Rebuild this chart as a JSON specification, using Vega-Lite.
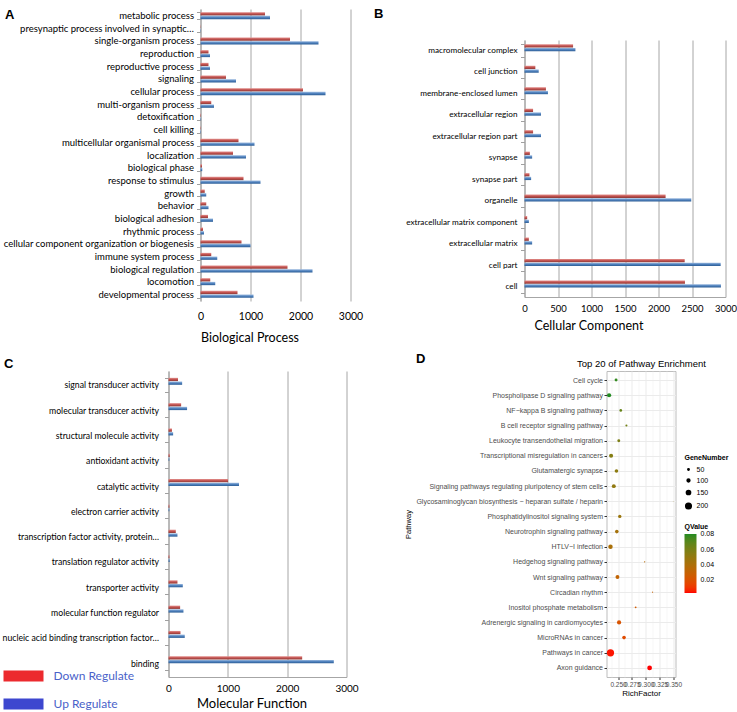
{
  "$schema": "https://vega.github.io/schema/vega-lite/v6.json",
  "padding": {"left": 1.5, "top": 4, "right": 0, "bottom": 0},
  "background": "white",
  "config": {"font": "Lato", "view": {"stroke": null}},
  "datasets": {
    "bp": [
      {"cat": "metabolic process", "reg": "Down Regulate", "n": 1290}, {"cat": "metabolic process", "reg": "Up Regulate", "n": 1390},
      {"cat": "presynaptic process involved in synaptic…", "reg": "Down Regulate", "n": 5}, {"cat": "presynaptic process involved in synaptic…", "reg": "Up Regulate", "n": 8},
      {"cat": "single-organism process", "reg": "Down Regulate", "n": 1790}, {"cat": "single-organism process", "reg": "Up Regulate", "n": 2360},
      {"cat": "reproduction", "reg": "Down Regulate", "n": 160}, {"cat": "reproduction", "reg": "Up Regulate", "n": 190},
      {"cat": "reproductive process", "reg": "Down Regulate", "n": 160}, {"cat": "reproductive process", "reg": "Up Regulate", "n": 190},
      {"cat": "signaling", "reg": "Down Regulate", "n": 510}, {"cat": "signaling", "reg": "Up Regulate", "n": 710},
      {"cat": "cellular process", "reg": "Down Regulate", "n": 2050}, {"cat": "cellular process", "reg": "Up Regulate", "n": 2500},
      {"cat": "multi-organism process", "reg": "Down Regulate", "n": 215}, {"cat": "multi-organism process", "reg": "Up Regulate", "n": 270},
      {"cat": "detoxification", "reg": "Down Regulate", "n": 10}, {"cat": "detoxification", "reg": "Up Regulate", "n": 12},
      {"cat": "cell killing", "reg": "Down Regulate", "n": 8}, {"cat": "cell killing", "reg": "Up Regulate", "n": 10},
      {"cat": "multicellular organismal process", "reg": "Down Regulate", "n": 760}, {"cat": "multicellular organismal process", "reg": "Up Regulate", "n": 1080},
      {"cat": "localization", "reg": "Down Regulate", "n": 650}, {"cat": "localization", "reg": "Up Regulate", "n": 910},
      {"cat": "biological phase", "reg": "Down Regulate", "n": 30}, {"cat": "biological phase", "reg": "Up Regulate", "n": 35},
      {"cat": "response to stimulus", "reg": "Down Regulate", "n": 860}, {"cat": "response to stimulus", "reg": "Up Regulate", "n": 1200},
      {"cat": "growth", "reg": "Down Regulate", "n": 85}, {"cat": "growth", "reg": "Up Regulate", "n": 115},
      {"cat": "behavior", "reg": "Down Regulate", "n": 115}, {"cat": "behavior", "reg": "Up Regulate", "n": 160},
      {"cat": "biological adhesion", "reg": "Down Regulate", "n": 150}, {"cat": "biological adhesion", "reg": "Up Regulate", "n": 250},
      {"cat": "rhythmic process", "reg": "Down Regulate", "n": 50}, {"cat": "rhythmic process", "reg": "Up Regulate", "n": 70},
      {"cat": "cellular component organization or biogenesis", "reg": "Down Regulate", "n": 820}, {"cat": "cellular component organization or biogenesis", "reg": "Up Regulate", "n": 1000},
      {"cat": "immune system process", "reg": "Down Regulate", "n": 215}, {"cat": "immune system process", "reg": "Up Regulate", "n": 335},
      {"cat": "biological regulation", "reg": "Down Regulate", "n": 1740}, {"cat": "biological regulation", "reg": "Up Regulate", "n": 2240},
      {"cat": "locomotion", "reg": "Down Regulate", "n": 195}, {"cat": "locomotion", "reg": "Up Regulate", "n": 295},
      {"cat": "developmental process", "reg": "Down Regulate", "n": 740}, {"cat": "developmental process", "reg": "Up Regulate", "n": 1060}
    ],
    "cc": [
      {"cat": "macromolecular complex", "reg": "Down Regulate", "n": 725}, {"cat": "macromolecular complex", "reg": "Up Regulate", "n": 760},
      {"cat": "cell junction", "reg": "Down Regulate", "n": 162}, {"cat": "cell junction", "reg": "Up Regulate", "n": 212},
      {"cat": "membrane-enclosed lumen", "reg": "Down Regulate", "n": 320}, {"cat": "membrane-enclosed lumen", "reg": "Up Regulate", "n": 350},
      {"cat": "extracellular region", "reg": "Down Regulate", "n": 128}, {"cat": "extracellular region", "reg": "Up Regulate", "n": 246},
      {"cat": "extracellular region part", "reg": "Down Regulate", "n": 128}, {"cat": "extracellular region part", "reg": "Up Regulate", "n": 246},
      {"cat": "synapse", "reg": "Down Regulate", "n": 80}, {"cat": "synapse", "reg": "Up Regulate", "n": 114},
      {"cat": "synapse part", "reg": "Down Regulate", "n": 74}, {"cat": "synapse part", "reg": "Up Regulate", "n": 99},
      {"cat": "organelle", "reg": "Down Regulate", "n": 2106}, {"cat": "organelle", "reg": "Up Regulate", "n": 2489},
      {"cat": "extracellular matrix component", "reg": "Down Regulate", "n": 40}, {"cat": "extracellular matrix component", "reg": "Up Regulate", "n": 65},
      {"cat": "extracellular matrix", "reg": "Down Regulate", "n": 65}, {"cat": "extracellular matrix", "reg": "Up Regulate", "n": 114},
      {"cat": "cell part", "reg": "Down Regulate", "n": 2391}, {"cat": "cell part", "reg": "Up Regulate", "n": 2928},
      {"cat": "cell", "reg": "Down Regulate", "n": 2395}, {"cat": "cell", "reg": "Up Regulate", "n": 2932}
    ],
    "mf": [
      {"cat": "signal transducer activity", "reg": "Down Regulate", "n": 160}, {"cat": "signal transducer activity", "reg": "Up Regulate", "n": 230},
      {"cat": "molecular transducer activity", "reg": "Down Regulate", "n": 213}, {"cat": "molecular transducer activity", "reg": "Up Regulate", "n": 313},
      {"cat": "structural molecule activity", "reg": "Down Regulate", "n": 58}, {"cat": "structural molecule activity", "reg": "Up Regulate", "n": 78},
      {"cat": "antioxidant activity", "reg": "Down Regulate", "n": 20}, {"cat": "antioxidant activity", "reg": "Up Regulate", "n": 15},
      {"cat": "catalytic activity", "reg": "Down Regulate", "n": 1003}, {"cat": "catalytic activity", "reg": "Up Regulate", "n": 1188},
      {"cat": "electron carrier activity", "reg": "Down Regulate", "n": 15}, {"cat": "electron carrier activity", "reg": "Up Regulate", "n": 15},
      {"cat": "transcription factor activity, protein…", "reg": "Down Regulate", "n": 123}, {"cat": "transcription factor activity, protein…", "reg": "Up Regulate", "n": 151},
      {"cat": "translation regulator activity", "reg": "Down Regulate", "n": 15}, {"cat": "translation regulator activity", "reg": "Up Regulate", "n": 20},
      {"cat": "transporter activity", "reg": "Down Regulate", "n": 151}, {"cat": "transporter activity", "reg": "Up Regulate", "n": 241},
      {"cat": "molecular function regulator", "reg": "Down Regulate", "n": 196}, {"cat": "molecular function regulator", "reg": "Up Regulate", "n": 252},
      {"cat": "nucleic acid binding transcription factor…", "reg": "Down Regulate", "n": 202}, {"cat": "nucleic acid binding transcription factor…", "reg": "Up Regulate", "n": 274},
      {"cat": "binding", "reg": "Down Regulate", "n": 2253}, {"cat": "binding", "reg": "Up Regulate", "n": 2786}
    ],
    "kegg": [
      {"Pathway": "Cell cycle", "RichFactor": 0.2464, "GeneNumber": 105, "QValue": 0.078},
      {"Pathway": "Phospholipase D signaling pathway", "RichFactor": 0.2338, "GeneNumber": 150, "QValue": 0.0805},
      {"Pathway": "NF−kappa B signaling pathway", "RichFactor": 0.2549, "GeneNumber": 95, "QValue": 0.066},
      {"Pathway": "B cell receptor signaling pathway", "RichFactor": 0.2651, "GeneNumber": 75, "QValue": 0.062},
      {"Pathway": "Leukocyte transendothelial migration", "RichFactor": 0.2513, "GeneNumber": 105, "QValue": 0.059},
      {"Pathway": "Transcriptional misregulation in cancers", "RichFactor": 0.2374, "GeneNumber": 145, "QValue": 0.056},
      {"Pathway": "Glutamatergic synapse", "RichFactor": 0.2471, "GeneNumber": 130, "QValue": 0.053},
      {"Pathway": "Signaling pathways regulating pluripotency of stem cells", "RichFactor": 0.2423, "GeneNumber": 140, "QValue": 0.051},
      {"Pathway": "Glycosaminoglycan biosynthesis − heparan sulfate / heparin", "RichFactor": 0.3496, "GeneNumber": 20, "QValue": 0.049},
      {"Pathway": "Phosphatidylinositol signaling system", "RichFactor": 0.2531, "GeneNumber": 120, "QValue": 0.047},
      {"Pathway": "Neurotrophin signaling pathway", "RichFactor": 0.2477, "GeneNumber": 130, "QValue": 0.043},
      {"Pathway": "HTLV−I infection", "RichFactor": 0.2363, "GeneNumber": 160, "QValue": 0.041},
      {"Pathway": "Hedgehog signaling pathway", "RichFactor": 0.298, "GeneNumber": 50, "QValue": 0.036},
      {"Pathway": "Wnt signaling pathway", "RichFactor": 0.2489, "GeneNumber": 140, "QValue": 0.031},
      {"Pathway": "Circadian rhythm", "RichFactor": 0.3124, "GeneNumber": 40, "QValue": 0.029},
      {"Pathway": "Inositol phosphate metabolism", "RichFactor": 0.2818, "GeneNumber": 65, "QValue": 0.025},
      {"Pathway": "Adrenergic signaling in cardiomyocytes", "RichFactor": 0.2518, "GeneNumber": 150, "QValue": 0.021},
      {"Pathway": "MicroRNAs in cancer", "RichFactor": 0.2608, "GeneNumber": 130, "QValue": 0.017},
      {"Pathway": "Pathways in cancer", "RichFactor": 0.2363, "GeneNumber": 260, "QValue": 0.004},
      {"Pathway": "Axon guidance", "RichFactor": 0.307, "GeneNumber": 170, "QValue": 0.0027}
    ]
  },
  "vconcat": [
    {
      "spacing": 10,
      "hconcat": [
        {
          "width": 182,
          "height": 292,
          "data": {"name": "bp"},
          "mark": {"type": "bar"},
          "encoding": {
            "y": {"field": "cat", "type": "nominal", "sort": null, "scale": {"paddingInner": 0.45, "paddingOuter": 0.25},
              "axis": {"title": "A", "titleAngle": 0, "titleX": -196, "titleY": 5.8, "titleAlign": "left", "titleBaseline": "middle", "titleFont": "Liberation Sans", "titleFontSize": 13, "titleFontWeight": "bold", "titleColor": "black",
                "offset": -32, "tickBand": "extent", "labelFont": "Lato", "labelFontSize": 9.5, "labelColor": "black", "labelLimit": 400, "labelPadding": 3, "tickSize": 4, "tickColor": "#A0A0A0", "domainColor": "#A0A0A0", "grid": false}},
            "yOffset": {"field": "reg", "type": "nominal", "sort": ["Down Regulate", "Up Regulate"], "scale": {"paddingInner": 0.1}},
            "x": {"field": "n", "type": "quantitative", "scale": {"domain": [-640, 3000], "nice": false},
              "axis": {"values": [0, 1000, 2000, 3000], "format": "d", "labelFlush": false, "labelOverlap": false, "title": "Biological Process", "titleX": 81, "titleFont": "Lato", "titleFontSize": 12.5, "titleFontWeight": "normal", "titleColor": "black", "titlePadding": 10, "labelFont": "Lato", "labelFontSize": 10.5, "labelColor": "black", "labelPadding": 10, "ticks": false, "tickSize": 0, "domain": false, "grid": true, "gridColor": "#A6A6A6"}},
            "color": {"condition": {"test": "datum.reg === 'Down Regulate'", "value": {"gradient": "linear", "x1": 0, "y1": 0, "x2": 0, "y2": 1, "stops": [{"offset": 0, "color": "#E3908D"}, {"offset": 0.5, "color": "#C0504D"}, {"offset": 1, "color": "#8B3A38"}]}},
              "value": {"gradient": "linear", "x1": 0, "y1": 0, "x2": 0, "y2": 1, "stops": [{"offset": 0, "color": "#9DBBE0"}, {"offset": 0.5, "color": "#4F81BD"}, {"offset": 1, "color": "#2C5D95"}]}}
          }
        },
        {
          "spacing": 14,
          "vconcat": [
            {
              "width": 1,
              "height": 10,
              "data": {"values": [{"L": "B"}]},
              "mark": {"type": "text", "font": "Liberation Sans", "fontSize": 13, "fontWeight": "bold", "align": "left", "baseline": "middle", "dx": -151, "color": "black"},
              "encoding": {"text": {"field": "L"}}
            },
            {
              "width": 201,
              "height": 257,
              "data": {"name": "cc"},
              "mark": {"type": "bar"},
              "encoding": {
                "y": {"field": "cat", "type": "nominal", "sort": null, "scale": {"paddingInner": 0.43, "paddingOuter": 0.2},
                  "axis": {"title": null, "tickBand": "extent", "labelFont": "Lato", "labelFontSize": 8.2, "labelColor": "black", "labelLimit": 400, "labelPadding": 3.5, "tickSize": 4, "tickColor": "#A0A0A0", "domainColor": "#A0A0A0", "grid": false}},
                "yOffset": {"field": "reg", "type": "nominal", "sort": ["Down Regulate", "Up Regulate"], "scale": {"paddingInner": 0.1}},
                "x": {"field": "n", "type": "quantitative", "scale": {"domain": [0, 3000], "nice": false},
                  "axis": {"values": [0, 500, 1000, 1500, 2000, 2500, 3000], "format": "d", "labelFlush": false, "labelOverlap": false, "title": "Cellular Component", "titleX": 64, "titleFont": "Lato", "titleFontSize": 12.5, "titleFontWeight": "normal", "titleColor": "black", "titlePadding": 7, "labelFont": "Lato", "labelFontSize": 9.5, "labelColor": "black", "labelPadding": 6, "ticks": false, "tickSize": 0, "domain": true, "domainColor": "#A6A6A6", "grid": true, "gridColor": "#A6A6A6"}},
                "color": {"condition": {"test": "datum.reg === 'Down Regulate'", "value": {"gradient": "linear", "x1": 0, "y1": 0, "x2": 0, "y2": 1, "stops": [{"offset": 0, "color": "#E3908D"}, {"offset": 0.5, "color": "#C0504D"}, {"offset": 1, "color": "#8B3A38"}]}},
                  "value": {"gradient": "linear", "x1": 0, "y1": 0, "x2": 0, "y2": 1, "stops": [{"offset": 0, "color": "#9DBBE0"}, {"offset": 0.5, "color": "#4F81BD"}, {"offset": 1, "color": "#2C5D95"}]}}
              }
            }
          ]
        }
      ]
    },
    {
      "spacing": 45,
      "hconcat": [
        {
          "width": 178,
          "height": 306,
          "data": {"name": "mf"},
          "layer": [
            {
              "mark": {"type": "bar"},
              "encoding": {
                "y": {"field": "cat", "type": "nominal", "sort": null, "scale": {"paddingInner": 0.45, "paddingOuter": 0.27},
                  "axis": {"title": "C", "titleAngle": 0, "titleX": -165, "titleY": -7.5, "titleAlign": "left", "titleBaseline": "middle", "titleFont": "Liberation Sans", "titleFontSize": 13, "titleFontWeight": "bold", "titleColor": "black",
                    "tickBand": "extent", "labelFont": "Lato", "labelFontSize": 8.7, "labelColor": "black", "labelLimit": 400, "labelPadding": 6, "tickSize": 4, "tickColor": "#A0A0A0", "domainColor": "#A0A0A0", "grid": false}},
                "yOffset": {"field": "reg", "type": "nominal", "sort": ["Down Regulate", "Up Regulate"], "scale": {"paddingInner": 0.1}},
                "x": {"field": "n", "type": "quantitative", "scale": {"domain": [0, 3000], "nice": false},
                  "axis": {"values": [0, 500, 1000, 1500, 2000, 2500, 3000], "format": "d", "labelFlush": false, "labelOverlap": false, "title": "Molecular Function", "titleX": 83, "titleFont": "Lato", "titleFontSize": 13, "titleFontWeight": "normal", "titleColor": "black", "titlePadding": 4, "labelFont": "Lato", "labelFontSize": 10, "labelColor": "black", "labelPadding": 6, "ticks": false, "tickSize": 0, "domain": true, "domainColor": "#A6A6A6", "grid": true, "gridColor": "#A6A6A6"}},
                "color": {"condition": {"test": "datum.reg === 'Down Regulate'", "value": {"gradient": "linear", "x1": 0, "y1": 0, "x2": 0, "y2": 1, "stops": [{"offset": 0, "color": "#E3908D"}, {"offset": 0.5, "color": "#C0504D"}, {"offset": 1, "color": "#8B3A38"}]}},
                  "value": {"gradient": "linear", "x1": 0, "y1": 0, "x2": 0, "y2": 1, "stops": [{"offset": 0, "color": "#9DBBE0"}, {"offset": 0.5, "color": "#4F81BD"}, {"offset": 1, "color": "#2C5D95"}]}}
              }
            },
            {
              "mark": {"type": "bar"},
              "encoding": {
                "y": {"field": "cat", "type": "nominal", "sort": null},
                "yOffset": {"field": "reg", "type": "nominal", "sort": ["Down Regulate", "Up Regulate"]},
                "x": {"datum": 0},
                "fill": {"field": "reg", "type": "nominal", "sort": ["Down Regulate", "Up Regulate"],
                  "scale": {"domain": ["Down Regulate", "Up Regulate"], "range": ["#EC2A2E", "#3D47CF"]},
                  "legend": {"orient": "none", "legendX": -165, "legendY": 647, "title": null, "direction": "vertical", "symbolType": "M-1,-0.275H1V0.275H-1Z", "symbolSize": 1600, "symbolStrokeWidth": 0, "symbolOpacity": 1, "labelFont": "Lato", "labelFontSize": 12, "labelColor": "#4A62C9", "labelOffset": 10, "rowPadding": 2, "padding": 0}}
              }
            }
          ]
        },
        {
          "width": 69,
          "height": 306,
          "data": {"name": "kegg"},
          "view": {"stroke": "#BDBDBD", "strokeWidth": 1},
          "layer": [
            {
              "mark": {"type": "circle", "opacity": 1},
              "encoding": {
                "y": {"field": "Pathway", "type": "nominal", "sort": null, "scale": {"type": "point", "padding": 0.6},
                  "axis": {"title": "Pathway", "titleFont": "Liberation Sans", "titleFontSize": 7.5, "titleFontWeight": "normal", "titleColor": "black", "titlePadding": 3, "labelFont": "Liberation Sans", "labelFontSize": 7, "labelColor": "#4D4D4D", "labelLimit": 400, "labelPadding": 1.5, "tickSize": 2.5, "tickColor": "#333333", "domain": false, "grid": true, "gridColor": "#EBEBEB"}},
                "x": {"field": "RichFactor", "type": "quantitative", "scale": {"domain": [0.2291, 0.3538], "nice": false, "zero": false},
                  "axis": {"values": [0.25, 0.275, 0.3, 0.325, 0.35], "format": ".3f", "labelOverlap": false, "labelFlush": false, "labelFont": "Liberation Sans", "labelFontSize": 6.5, "labelColor": "#4D4D4D", "labelPadding": 2, "tickSize": 2.5, "tickColor": "#333333", "domain": false, "grid": true, "gridColor": "#EBEBEB", "title": "RichFactor", "titleFont": "Liberation Sans", "titleFontSize": 8, "titleFontWeight": "normal", "titleColor": "black", "titlePadding": 1}},
                "size": {"field": "GeneNumber", "type": "quantitative", "scale": {"type": "pow", "exponent": 2, "domain": [0, 200], "range": [0, 31.2]},
                  "legend": {"orient": "none", "legendX": 516, "legendY": 445, "title": "GeneNumber", "values": [50, 100, 150, 200], "titleFont": "Liberation Sans", "titleFontSize": 7, "titleFontWeight": "bold", "titleColor": "black", "titlePadding": 5, "labelFont": "Liberation Sans", "labelFontSize": 7, "labelColor": "black", "symbolFillColor": "black", "symbolStrokeColor": "black", "symbolType": "circle", "rowPadding": 2, "padding": 0}},
                "color": {"field": "QValue", "type": "quantitative", "scale": {"domain": [0.0027, 0.0805], "range": ["#FF0000", "#228B22"], "interpolate": "lab"},
                  "legend": {"orient": "none", "legendX": 516, "legendY": 514, "title": "QValue", "values": [0.02, 0.04, 0.06, 0.08], "format": ".2f", "gradientLength": 59, "gradientThickness": 12, "gradientStrokeWidth": 0, "titleFont": "Liberation Sans", "titleFontSize": 7, "titleFontWeight": "bold", "titleColor": "black", "titlePadding": 4, "labelFont": "Liberation Sans", "labelFontSize": 7, "labelColor": "black", "labelOffset": 4, "padding": 0}}
              }
            },
            {
              "mark": {"type": "point", "opacity": 0},
              "encoding": {
                "x": {"field": "RichFactor", "type": "quantitative",
                  "axis": {"orient": "top", "title": "Top 20 of Pathway Enrichment", "values": [0.2375, 0.2625, 0.2875, 0.3125, 0.3375], "labels": false, "ticks": false, "domain": false, "grid": true, "gridColor": "#F2F2F2", "gridWidth": 0.6, "titleFont": "Liberation Sans", "titleFontSize": 9.5, "titleFontWeight": "normal", "titleColor": "black", "titlePadding": 3}},
                "y": {"field": "Pathway", "type": "nominal", "sort": null,
                  "axis": {"orient": "right", "labels": false, "ticks": false, "domain": false, "grid": false, "title": "D", "titleAngle": 0, "titleX": -260, "titleY": -13, "titleAlign": "left", "titleBaseline": "middle", "titleFont": "Liberation Sans", "titleFontSize": 13, "titleFontWeight": "bold", "titleColor": "black"}}
              }
            }
          ],
          "resolve": {"axis": {"x": "independent", "y": "independent"}}
        }
      ]
    }
  ],
  "spacing": 7
}
